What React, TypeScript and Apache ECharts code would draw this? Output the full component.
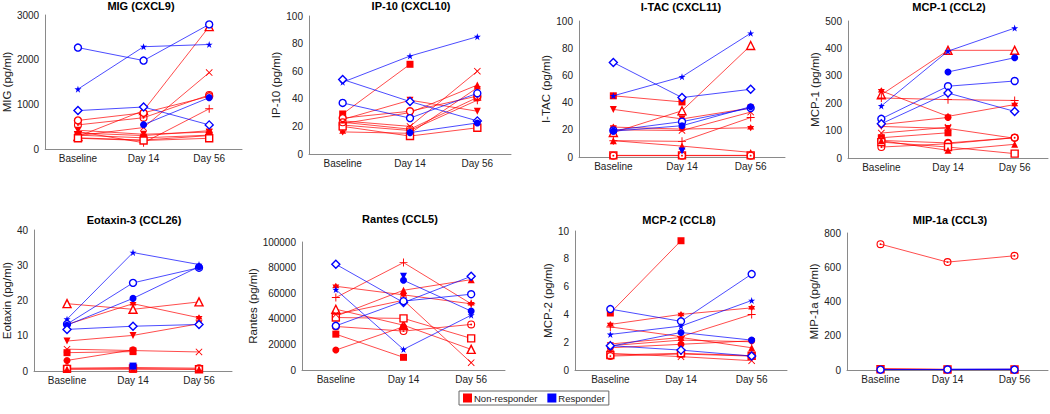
import { useEffect, useRef } from 'react';
import * as echarts from 'echarts';

type Subj = [string, string, (number | null)[]];

const TIMEPOINTS = ['Baseline', 'Day 14', 'Day 56'];
const GROUPS = ['Non-responder', 'Responder'];

// [group (N = non-responder, R = responder), marker, values at Baseline / Day 14 / Day 56]
const MIG: Subj[] = [
  ['N', 'ot', [280, 860, 2740]], ['N', 'x', [300, 480, 1710]], ['N', 'cd', [540, 700, 1210]],
  ['N', 'oc', [640, 810, 1180]], ['N', 'pl', [390, 140, 900]], ['N', 'hx', [360, 300, 410]],
  ['N', 'dt', [420, 330, 380]], ['N', 'fs', [310, 250, 310]], ['N', 'ft', [250, 200, 300]],
  ['N', 'os', [240, 190, 240]],
  ['R', 'oc', [2270, 1980, 2790]], ['R', 'st', [1340, 2290, 2340]], ['R', 'od', [860, 940, 540]],
  ['R', 'fc', [null, 545, 1150]],
];
const IP10: Subj[] = [
  ['N', 'fs', [29, 65, null]], ['N', 'dt', [25, 39, 31]], ['N', 'ft', [22, 30, 50]],
  ['N', 'x', [24, 20, 60]], ['N', 'oc', [26, 31, 42]], ['N', 'pl', [21, 17, 39]],
  ['N', 'hx', [16, 15, 48]], ['N', 'os', [20, 13, 19]], ['N', 'cd', [23, 18, 41]],
  ['R', 'st', [52, 71, 85]], ['R', 'od', [54, 38, 24]], ['R', 'oc', [37, 26, 44]],
  ['R', 'fc', [null, 15.5, 22.5]],
];
const ITAC: Subj[] = [
  ['N', 'fs', [45, 40.5, null]], ['N', 'ot', [18, 34, 82]], ['N', 'dt', [35, 28, 36]],
  ['N', 'x', [20, 19.5, 33]], ['N', 'pl', [12, 11.5, 29]], ['N', 'hx', [22, 20.5, 21.5]],
  ['N', 'ft', [12, 8, 3.4]], ['N', 'os', [1.2, 1.2, 1.2]], ['N', 'cd', [1, 1, 1]],
  ['R', 'od', [69.5, 43.7, 49.8]], ['R', 'st', [45, 59, 91]], ['R', 'oc', [19.5, 26, 36]],
  ['R', 'fc', [19, 23, 37]], ['R', 'dt', [null, 4.5, null]],
];
const MCP1: Subj[] = [
  ['N', 'ot', [231, 393, 393]], ['N', 'hx', [245, 152, 195]], ['N', 'pl', [219, 213, 210]],
  ['N', 'fc', [122, 148, null]], ['N', 'x', [91, 112, null]], ['N', 'dt', [115, 108, 72]],
  ['N', 'fs', [74, 92, null]], ['N', 'oc', [64, 55, 74]], ['N', 'cd', [40, 52, 74]],
  ['N', 'os', [58, 40, 16]], ['N', 'ft', [63, 28, 50]],
  ['R', 'st', [190, 390, 474]], ['R', 'fc', [null, 314, 366]], ['R', 'oc', [143, 262, 281]],
  ['R', 'od', [125, 237, 170]],
];
const EOTAXIN: Subj[] = [
  ['N', 'ot', [19.1, 17.5, 19.6]], ['N', 'hx', [13.2, 19.1, 15.1]], ['N', 'dt', [8.5, 10.1, 13.4]],
  ['N', 'x', [6.2, 5.8, 5.4]], ['N', 'fc', [3, 6, null]], ['N', 'fs', [5.2, 5.5, null]],
  ['N', 'os', [0.6, 0.7, 0.5]], ['N', 'cd', [0.8, 1.0, 0.8]], ['N', 'ft', [0.5, 0.5, 0.5]],
  ['R', 'st', [14.7, 33.6, 30.2]], ['R', 'oc', [13.3, 25, 29.3]], ['R', 'fc', [13, 20.6, 29.6]],
  ['R', 'od', [11.8, 12.7, 13.2]], ['R', 'fs', [null, 1.4, null]],
];
const RANTES: Subj[] = [
  ['N', 'pl', [56600, 83900, 51700]], ['N', 'hx', [65400, 58700, 51700]], ['N', 'ot', [47500, 35000, 16100]],
  ['N', 'ft', [42000, 62300, 70600]], ['N', 'os', [41000, 40300, 24700]], ['N', 'cd', [34000, 30400, 35600]],
  ['N', 'fs', [28000, 9900, null]], ['N', 'fc', [15600, 33800, null]], ['N', 'x', [43400, 54500, 5700]],
  ['R', 'od', [82600, 52700, 73200]], ['R', 'st', [62800, 16100, 42800]], ['R', 'oc', [34500, 53800, 59200]],
  ['R', 'fc', [null, 70100, 46000]], ['R', 'dt', [null, 73200, null]],
];
const MCP2: Subj[] = [
  ['N', 'fs', [4.1, 9.3, null]], ['N', 'hx', [3.28, 4.0, 4.47]], ['N', 'pl', [3.1, 2.4, 4.0]],
  ['N', 'ft', [1.87, 2.34, 1.6]], ['N', 'dt', [1.75, 2.15, 2.03]], ['N', 'x', [1.2, 0.96, 0.67]],
  ['N', 'os', [1.08, 1.2, 1.03]], ['N', 'cd', [1.0, 1.15, 1.0]], ['N', 'fc', [1.6, 1.85, 2.1]],
  ['R', 'oc', [4.38, 3.5, 6.9]], ['R', 'st', [2.56, 3.16, 5.0]], ['R', 'fc', [1.7, 2.7, 2.15]],
  ['R', 'od', [1.75, 1.43, 1.0]],
];
const MIP1A: Subj[] = [
  ['N', 'cd', [735, 630, 667]], ['N', 'fs', [8, 4, null]], ['N', 'os', [4, 3, 3]],
  ['N', 'x', [3, 2, 2]], ['N', 'ft', [5, 3, 4]],
  ['R', 'fc', [null, 5, 6]], ['R', 'st', [3, 2, 3]], ['R', 'oc', [2, 3, 2]],
];

const PANELS = [
  { title: 'MIG (CXCL9)', yName: 'MIG (pg/ml)', max: 3000, interval: 1000, data: MIG, grid: { left: 43, top: 15, width: 199, height: 134 }, gap: 32, tx: 141, ty: 6 },
  { title: 'IP-10 (CXCL10)', yName: 'IP-10 (pg/ml)', max: 100, interval: 20, data: IP10, grid: { left: 309, top: 16, width: 202, height: 138 }, gap: 22, tx: 411, ty: 6 },
  { title: 'I-TAC (CXCL11)', yName: 'I-TAC (pg/ml)', max: 100, interval: 20, data: ITAC, grid: { left: 579, top: 21, width: 206, height: 136 }, gap: 23, tx: 681, ty: 7 },
  { title: 'MCP-1 (CCL2)', yName: 'MCP-1 (pg/ml)', max: 500, interval: 100, data: MCP1, grid: { left: 848, top: 21, width: 200, height: 137 }, gap: 23, tx: 949, ty: 7 },
  { title: 'Eotaxin-3 (CCL26)', yName: 'Eotaxin (pg/ml)', max: 40, interval: 10, data: EOTAXIN, grid: { left: 30, top: 230, width: 202, height: 141 }, gap: 19, tx: 134, ty: 220 },
  { title: 'Rantes (CCL5)', yName: 'Rantes (pg/ml)', max: 100000, interval: 20000, data: RANTES, grid: { left: 302, top: 242, width: 203, height: 128 }, gap: 31, tx: 400, ty: 219 },
  { title: 'MCP-2 (CCL8)', yName: 'MCP-2 (pg/ml)', max: 10, interval: 2, data: MCP2, grid: { left: 575, top: 231, width: 212, height: 139 }, gap: 18, tx: 679, ty: 220 },
  { title: 'MIP-1a (CCL3)', yName: 'MIP-1a (pg/ml)', max: 800, interval: 200, data: MIP1A, grid: { left: 847, top: 233, width: 201, height: 137 }, gap: 23, tx: 950, ty: 220 },
];

const STAR = 'path://M5,0L6.2,3.6L10,3.6L6.9,5.8L8.1,9.5L5,7.2L1.9,9.5L3.1,5.8L0,3.6L3.8,3.6Z';
const HEX = 'path://M5,0L6.4,2.5L9.3,2.5L7.9,5L9.3,7.5L6.4,7.5L5,10L3.6,7.5L0.7,7.5L2.1,5L0.7,2.5L3.6,2.5Z';
const PLUS = 'path://M4.4,0H5.6V4.4H10V5.6H5.6V10H4.4V5.6H0V4.4H4.4Z';
const CROSS = 'path://M0.9,0L5,4.1L9.1,0L10,0.9L5.9,5L10,9.1L9.1,10L5,5.9L0.9,10L0,9.1L4.1,5L0,0.9Z';
const CDOT = 'path://M0,5A5,5 0 1,0 10,5A5,5 0 1,0 0,5ZM1.4,5A3.6,3.6 0 1,1 8.6,5A3.6,3.6 0 1,1 1.4,5ZM3.8,5A1.2,1.2 0 1,0 6.2,5A1.2,1.2 0 1,0 3.8,5Z';

const MARKERS: Record<string, { symbol: string; empty?: boolean; rotate?: number; size: number }> = {
  oc: { symbol: 'circle', empty: true, size: 7 },
  cd: { symbol: CDOT, size: 8 },
  fc: { symbol: 'circle', size: 7 },
  os: { symbol: 'rect', empty: true, size: 7 },
  fs: { symbol: 'rect', size: 7 },
  ot: { symbol: 'triangle', empty: true, size: 8 },
  ft: { symbol: 'triangle', size: 7 },
  dt: { symbol: 'triangle', rotate: 180, size: 7 },
  od: { symbol: 'diamond', empty: true, size: 8 },
  st: { symbol: STAR, size: 7 },
  hx: { symbol: HEX, size: 7 },
  pl: { symbol: PLUS, size: 8 },
  x: { symbol: CROSS, size: 7 },
};

const RED = '#ff0000';
const BLUE = '#0000ff';
const FONT = 'Liberation Sans, Arial, sans-serif';

function buildOption() {
  const grid: any[] = [];
  const xAxis: any[] = [];
  const yAxis: any[] = [];
  const series: any[] = [];
  const graphic: any[] = [];

  PANELS.forEach((p, i) => {
    grid.push({ ...p.grid, containLabel: false });
    xAxis.push({
      type: 'category', gridIndex: i, data: TIMEPOINTS, boundaryGap: true,
      axisLine: { lineStyle: { color: '#8a8a8a', width: 1 } },
      axisTick: { show: false },
      axisLabel: { fontSize: 10, color: '#222', margin: 4, fontFamily: FONT },
    });
    yAxis.push({
      type: 'value', gridIndex: i, min: 0, max: p.max, interval: p.interval,
      name: p.yName, nameLocation: 'middle', nameGap: p.gap,
      nameTextStyle: { fontSize: 11.5, color: '#222', fontFamily: FONT },
      axisLine: { show: true, lineStyle: { color: '#8a8a8a', width: 1 } },
      axisTick: { show: false },
      splitLine: { show: false },
      axisLabel: { fontSize: 10, color: '#222', margin: 6, fontFamily: FONT, formatter: (v: number) => String(v) },
    });
    graphic.push({
      type: 'text', x: p.tx, y: p.ty,
      style: { text: p.title, font: `bold 11px ${FONT}`, fill: '#000', align: 'center', verticalAlign: 'middle', textAlign: 'center', textVerticalAlign: 'middle' },
    });
    const ordered = [...p.data.filter((d) => d[0] === 'N'), ...p.data.filter((d) => d[0] === 'R')];
    ordered.forEach(([g, m, vals]) => {
      const c = g === 'N' ? RED : BLUE;
      const mk = MARKERS[m];
      series.push({
        type: 'line', name: g === 'N' ? GROUPS[0] : GROUPS[1],
        xAxisIndex: i, yAxisIndex: i,
        data: vals.map((v) => (v === null ? '-' : v)),
        symbol: mk.symbol, symbolSize: mk.size, symbolRotate: mk.rotate || 0,
        showSymbol: true, showAllSymbol: true, connectNulls: false,
        lineStyle: { color: c, width: 1, opacity: 0.7 },
        itemStyle: mk.empty
          ? { color: '#fff', borderColor: c, borderWidth: 1.4 }
          : { color: c, borderColor: c, borderWidth: 0 },
        emphasis: { disabled: true },
        z: g === 'N' ? 2 : 3,
      });
    });
  });

  series.push({ type: 'line', name: GROUPS[0], xAxisIndex: 0, yAxisIndex: 0, data: [], itemStyle: { color: RED } });
  series.push({ type: 'line', name: GROUPS[1], xAxisIndex: 0, yAxisIndex: 0, data: [], itemStyle: { color: BLUE } });

  return {
    animation: false,
    backgroundColor: '#fff',
    grid, xAxis, yAxis, series, graphic,
    legend: {
      data: [
        { name: GROUPS[0], itemStyle: { color: RED } },
        { name: GROUPS[1], itemStyle: { color: BLUE } },
      ],
      left: 459, top: 391, icon: 'rect', itemWidth: 7, itemHeight: 7, itemGap: 10,
      padding: [2, 4, 2, 4], borderColor: '#666', borderWidth: 1, selectedMode: false,
      textStyle: { fontSize: 9.5, color: '#222', fontFamily: FONT, padding: [0, 0, 0, -2] },
    },
  };
}

export default function App() {
  const ref = useRef<HTMLDivElement>(null);
  useEffect(() => {
    const chart = echarts.init(ref.current!, null, { renderer: 'svg' });
    chart.setOption(buildOption() as any);
    return () => chart.dispose();
  }, []);
  return <div ref={ref} style={{ position: 'absolute', left: 0, top: 0, width: 1050, height: 414 }} />;
}
